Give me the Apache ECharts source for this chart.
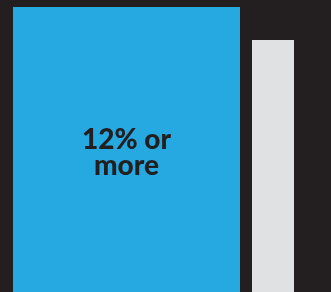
<!DOCTYPE html>
<html>
<head>
<meta charset="utf-8">
<script src="https://cdn.jsdelivr.net/npm/echarts@6/dist/echarts.min.js"></script>
<style>
  html, body { margin: 0; padding: 0; background: #231f20; }
  #chart { width: 331px; height: 292px; }
</style>
</head>
<body>
<div id="chart"></div>
<script>
// bar heights as a share of the visible plot (bars run past the bottom edge)
var categories = ['12% or more', 'other']
var values = [97.6, 86.3]
var colors = ['#25a9e0', '#e0e1e3']

var chart = echarts.init(document.getElementById('chart'))
chart.setOption({
  backgroundColor: '#231f20',
  animation: false,
  grid: [
    { left: 13, width: 227, top: 0, bottom: 0 },
    { left: 252, width: 42, top: 0, bottom: 0 }
  ],
  xAxis: [
    { type: 'category', gridIndex: 0, data: [categories[0]], show: false },
    { type: 'category', gridIndex: 1, data: [categories[1]], show: false }
  ],
  yAxis: [
    { type: 'value', gridIndex: 0, min: 0, max: 100, show: false },
    { type: 'value', gridIndex: 1, min: 0, max: 100, show: false }
  ],
  series: [
    {
      type: 'bar', xAxisIndex: 0, yAxisIndex: 0, barWidth: '100%',
      data: [values[0]],
      itemStyle: { color: colors[0] },
      label: {
        show: true, position: 'inside', offset: [0, 3],
        formatter: '12% or\nmore',
        color: '#231f20', fontFamily: 'Lato', fontWeight: 900,
        fontSize: 28, lineHeight: 26
      }
    },
    {
      type: 'bar', xAxisIndex: 1, yAxisIndex: 1, barWidth: '100%',
      data: [values[1]],
      itemStyle: { color: colors[1] }
    }
  ]
})
</script>
</body>
</html>
